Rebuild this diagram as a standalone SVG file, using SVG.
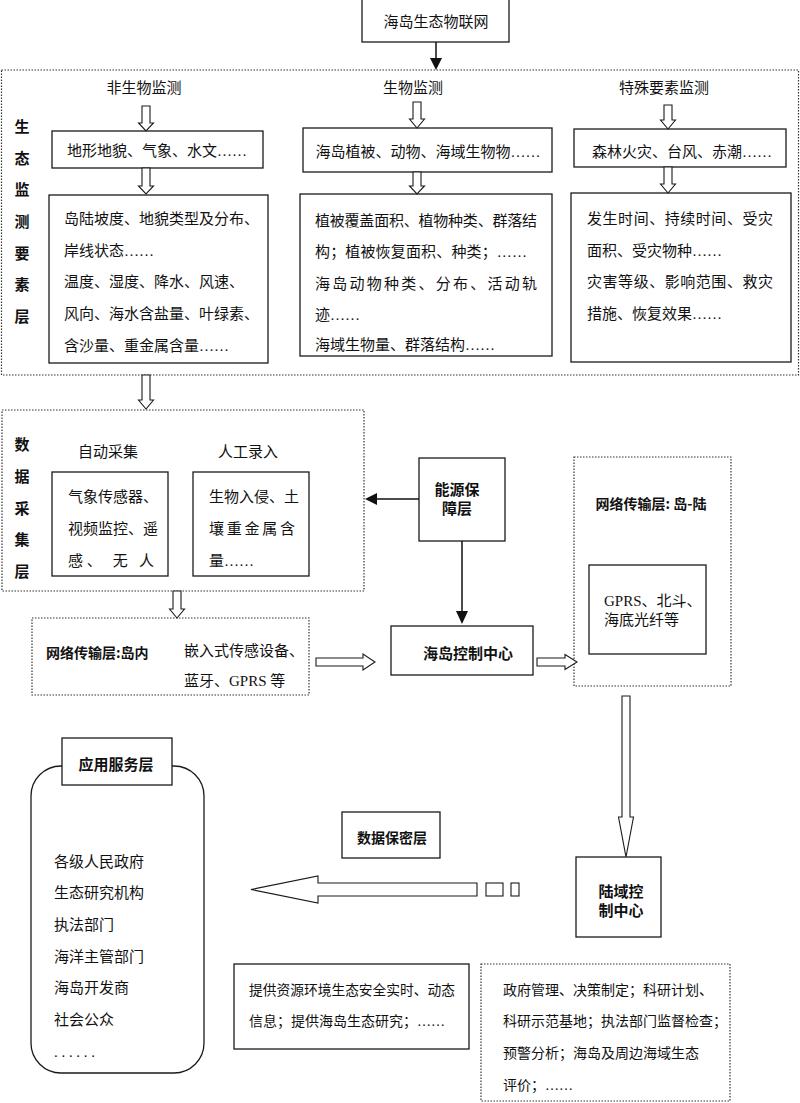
<svg xmlns="http://www.w3.org/2000/svg" width="800" height="1103" viewBox="0 0 800 1103">
<style>
.bx{fill:#fff;stroke:#1a1a1a;stroke-width:1.3}
.dt{fill:none;stroke:#333;stroke-width:1.2;stroke-dasharray:1.5 1.5}
.ha{fill:#fff;stroke:#1a1a1a;stroke-width:1.1}
.ln{fill:none;stroke:#111;stroke-width:1.5}
.fa{fill:#111}
.t{font-family:"Liberation Serif","Noto Sans CJK SC",serif;font-size:15px;fill:#111;dominant-baseline:central}
.s{font-size:14px}
.b{font-family:"Noto Sans CJK SC","Liberation Sans",sans-serif;font-weight:bold;font-size:15px;fill:#111;dominant-baseline:central}
.m{text-anchor:middle}
</style>
<rect width="800" height="1103" fill="#fff"/>

<g id="iot">
<rect class="bx" x="362" y="-1" width="147" height="43"/>
<text class="t m" x="436" y="22">海岛生态物联网</text>
</g>

<g id="monitor-layer">
<rect class="dt" x="1.5" y="70" width="797" height="305"/>
<text class="b m" x="22" y="125">生</text>
<text class="b m" x="22" y="157">态</text>
<text class="b m" x="22" y="188">监</text>
<text class="b m" x="22" y="220">测</text>
<text class="b m" x="22" y="252">要</text>
<text class="b m" x="22" y="283">素</text>
<text class="b m" x="22" y="315">层</text>
</g>

<g id="abiotic">
<text class="t m" x="144" y="88">非生物监测</text>
<rect class="bx" x="52" y="131" width="211" height="37"/>
<text class="t m" x="157" y="151">地形地貌、气象、水文……</text>
<rect class="bx" x="49" y="195" width="219" height="168"/>
<text class="t" x="64" y="219">岛陆坡度、地貌类型及分布、</text>
<text class="t" x="64" y="251">岸线状态……</text>
<text class="t" x="64" y="282">温度、湿度、降水、风速、</text>
<text class="t" x="64" y="314">风向、海水含盐量、叶绿素、</text>
<text class="t" x="64" y="346">含沙量、重金属含量……</text>
</g>

<g id="biotic">
<text class="t m" x="413" y="88">生物监测</text>
<rect class="bx" x="303" y="128" width="249" height="44"/>
<text class="t m" x="428" y="152">海岛植被、动物、海域生物物……</text>
<rect class="bx" x="300" y="194" width="252" height="162"/>
<text class="t" x="315" y="221" textLength="222" lengthAdjust="spacing">植被覆盖面积、植物种类、群落结</text>
<text class="t" x="315" y="252" textLength="212" lengthAdjust="spacing">构；植被恢复面积、种类；……</text>
<text class="t" x="315" y="284" textLength="222" lengthAdjust="spacing">海岛动物种类、分布、活动轨</text>
<text class="t" x="315" y="315">迹……</text>
<text class="t" x="315" y="345">海域生物量、群落结构……</text>
</g>

<g id="special">
<text class="t m" x="664" y="88">特殊要素监测</text>
<rect class="bx" x="574" y="129" width="212" height="38"/>
<text class="t m" x="682" y="152">森林火灾、台风、赤潮……</text>
<rect class="bx" x="571" y="193" width="220" height="169"/>
<text class="t" x="587" y="219" textLength="186" lengthAdjust="spacing">发生时间、持续时间、受灾</text>
<text class="t" x="587" y="251">面积、受灾物种……</text>
<text class="t" x="587" y="282" textLength="186" lengthAdjust="spacing">灾害等级、影响范围、救灾</text>
<text class="t" x="587" y="314">措施、恢复效果……</text>
</g>

<g id="collect-layer">
<rect class="dt" x="2" y="410" width="362" height="181"/>
<text class="b m" x="22" y="443">数</text>
<text class="b m" x="22" y="475">据</text>
<text class="b m" x="22" y="507">采</text>
<text class="b m" x="22" y="538">集</text>
<text class="b m" x="22" y="570">层</text>
</g>

<g id="auto">
<text class="t m" x="108" y="452">自动采集</text>
<rect class="bx" x="52" y="472" width="116" height="104"/>
<text class="t" x="68" y="497">气象传感器、</text>
<text class="t" x="68" y="529">视频监控、遥</text>
<text class="t" x="68" y="561" textLength="86" lengthAdjust="spacing">感、 无 人</text>
</g>

<g id="manual">
<text class="t m" x="248" y="452">人工录入</text>
<rect class="bx" x="193" y="472" width="116" height="104"/>
<text class="t" x="209" y="497">生物入侵、土</text>
<text class="t" x="209" y="529" textLength="86" lengthAdjust="spacing">壤重金属含</text>
<text class="t" x="209" y="561">量……</text>
</g>

<g id="energy">
<rect class="bx" x="419" y="458" width="86" height="83"/>
<text class="b m" x="457" y="488">能源保</text>
<text class="b m" x="457" y="507">障层</text>
</g>

<g id="net-island">
<rect class="dt" x="32" y="618" width="277" height="77"/>
<text class="b" x="46" y="652" style="font-size:14px">网络传输层:岛内</text>
<text class="t" x="184" y="651">嵌入式传感设备、</text>
<text class="t" x="184" y="681">蓝牙、GPRS 等</text>
</g>

<g id="island-center">
<rect class="bx" x="391" y="626" width="142" height="49"/>
<text class="b m" x="468" y="652">海岛控制中心</text>
</g>

<g id="net-land">
<rect class="dt" x="574" y="457" width="157" height="229"/>
<text class="b m" x="651" y="503" style="font-size:14px">网络传输层: 岛-陆</text>
<rect class="bx" x="589" y="565" width="117" height="89"/>
<text class="t" x="604" y="601">GPRS、北斗、</text>
<text class="t" x="604" y="620">海底光纤等</text>
</g>

<g id="land-center">
<rect class="bx" x="576" y="857" width="85" height="80"/>
<text class="b m" x="621" y="890">陆域控</text>
<text class="b m" x="621" y="909">制中心</text>
</g>

<g id="secrecy">
<rect class="bx" x="342" y="812" width="98" height="46"/>
<text class="b m" x="392" y="837" style="font-size:14px">数据保密层</text>
</g>

<g id="app-layer">
<rect class="bx" x="31" y="766" width="173" height="307" rx="30" ry="30"/>
<rect class="bx" x="62" y="738" width="110" height="47"/>
<text class="b m" x="116" y="763">应用服务层</text>
<text class="t" x="54" y="862">各级人民政府</text>
<text class="t" x="54" y="893">生态研究机构</text>
<text class="t" x="54" y="925">执法部门</text>
<text class="t" x="54" y="957">海洋主管部门</text>
<text class="t" x="54" y="988">海岛开发商</text>
<text class="t" x="54" y="1020">社会公众</text>
<text class="t" x="54" y="1052" textLength="41" lengthAdjust="spacing">......</text>
</g>

<g id="provide">
<rect class="bx" x="234" y="964" width="235" height="85"/>
<text class="t s" x="249" y="990" textLength="206" lengthAdjust="spacingAndGlyphs">提供资源环境生态安全实时、动态</text>
<text class="t s" x="249" y="1021">信息；提供海岛生态研究；……</text>
</g>

<g id="uses">
<rect class="dt" x="481" y="964" width="249" height="137"/>
<text class="t s" x="503" y="990">政府管理、决策制定；科研计划、</text>
<text class="t s" x="503" y="1021">科研示范基地；执法部门监督检查；</text>
<text class="t s" x="503" y="1053">预警分析；海岛及周边海域生态</text>
<text class="t s" x="503" y="1085">评价；……</text>
</g>

<g id="connectors">
<line class="ln" x1="436" y1="42" x2="436" y2="59"/>
<polygon class="fa" points="430,58 442,58 436,70"/>
<polygon class="ha" points="142,106 150,106 150,123 153.5,123 146,131 138.5,123 142,123"/>
<polygon class="ha" points="142,168 150,168 150,186 153.5,186 146,194 138.5,186 142,186"/>
<polygon class="ha" points="413,102 421,102 421,119 424.5,119 417,128 409.5,119 413,119"/>
<polygon class="ha" points="413,172 421,172 421,186 424.5,186 417,194 409.5,186 413,186"/>
<polygon class="ha" points="664,105 672,105 672,120 675.5,120 668,129 660.5,120 664,120"/>
<polygon class="ha" points="664,167 672,167 672,184 675.5,184 668,193 660.5,184 664,184"/>
<polygon class="ha" points="142,375 150,375 150,400 153.5,400 146,409 138.5,400 142,400"/>
<polygon class="ha" points="173,591 181,591 181,609 184.5,609 177,618 169.5,609 173,609"/>
<line class="ln" x1="419" y1="499" x2="376" y2="499"/>
<polygon class="fa" points="377,493 377,505 365,499"/>
<line class="ln" x1="462" y1="541" x2="462" y2="612"/>
<polygon class="fa" points="456,611 468,611 462,624"/>
<polygon class="ha" points="316,658 363,658 363,654 375,662 363,670 363,666 316,666"/>
<polygon class="ha" points="537,658 565,658 565,654.5 577,662 565,669.5 565,666 537,666"/>
<polygon class="ha" points="622,696 630,696 630,817 633.5,817 626,857 618.5,817 622,817"/>
<polygon class="ha" points="477,883 318,883 318,876 251,889.5 318,903 318,896 477,896"/>
<rect class="ha" x="486" y="883" width="17" height="13"/>
<rect class="ha" x="511" y="883" width="8" height="13"/>
</g>
</svg>
